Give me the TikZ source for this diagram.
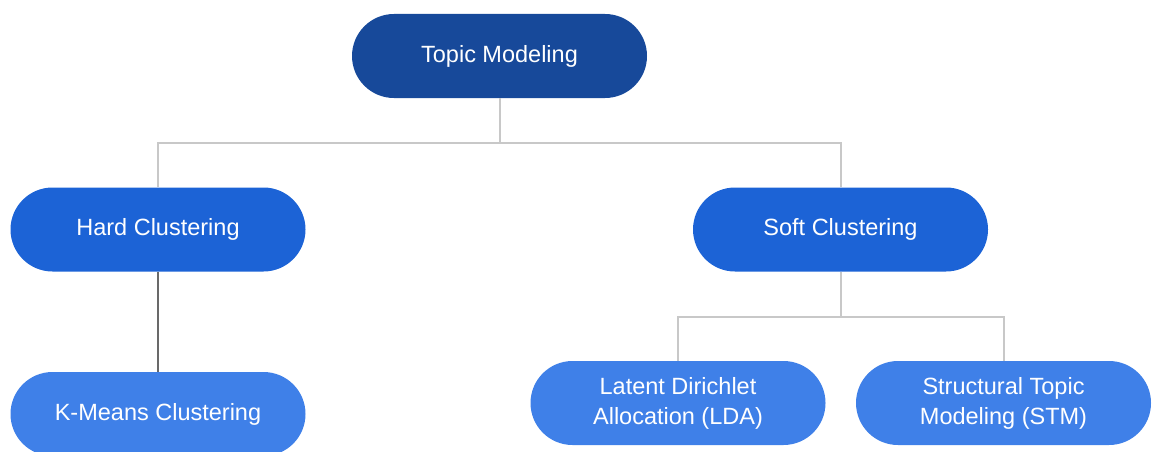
\documentclass[tikz,border=0pt]{standalone}
\usepackage{fontspec}
\setmainfont{Liberation Sans}
\definecolor{topc}{RGB}{23,73,154}
\definecolor{midc}{RGB}{28,99,214}
\definecolor{lowc}{RGB}{63,128,232}
\definecolor{linec}{RGB}{200,200,200}
\definecolor{darkline}{RGB}{105,105,105}
\begin{document}
\begin{tikzpicture}[x=1pt,y=1pt,
  pill/.style={rectangle, rounded corners=42pt, minimum width=295pt, minimum height=84pt,
    text=white, font=\fontsize{23.5}{30}\selectfont, align=center, inner sep=0pt},
  conn/.style={draw=linec, line width=2pt},
  darkconn/.style={draw=darkline, line width=2pt}]
\useasboundingbox (0,0) rectangle (1158,451);
\clip (0,0) rectangle (1158,451);
\node[pill, fill=topc] (top) at (499.5,395) {Topic Modeling};
\node[pill, fill=midc] (hard) at (158,221.5) {Hard Clustering};
\node[pill, fill=midc] (soft) at (840.5,221.5) {Soft Clustering};
\node[pill, fill=lowc] (km) at (158,37) {K-Means Clustering};
\node[pill, fill=lowc] (lda) at (678,48) {Latent Dirichlet\\Allocation (LDA)};
\node[pill, fill=lowc] (stm) at (1003.5,48) {Structural Topic\\Modeling (STM)};
\coordinate (j1) at (499.5,308);
\coordinate (j2) at (840.5,134);
\draw[conn] (top.south) -- (j1) -| (hard.north);
\draw[conn] (j1) -| (soft.north);
\draw[darkconn] (hard.south) -- (km.north);
\draw[conn] (soft.south) -- (j2) -| (lda.north);
\draw[conn] (j2) -| (stm.north);
\end{tikzpicture}
\end{document}
